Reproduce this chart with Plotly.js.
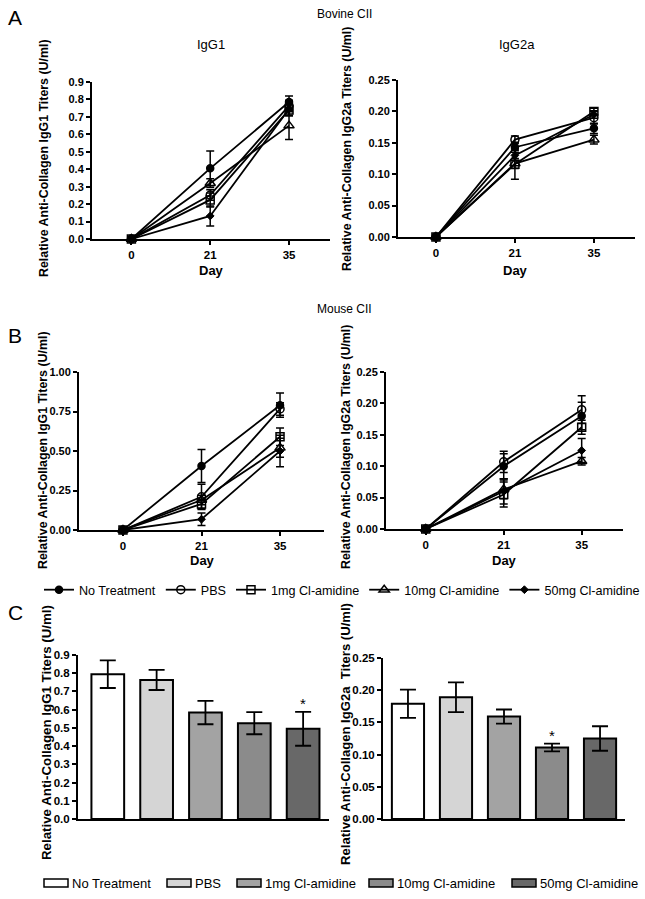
<!DOCTYPE html>
<html>
<head>
<meta charset="utf-8">
<script src="https://cdn.plot.ly/plotly-3.0.1.min.js"></script>
<style>html,body{margin:0;padding:0;background:#fff;}#chart{width:645px;height:899px;}</style>
</head>
<body>
<div id="chart"></div>
<script>
// ---------------- DATA ----------------
const days = ['0', '21', '35'];
const groups = ['No Treatment', 'PBS', '1mg Cl-amidine', '10mg Cl-amidine', '50mg Cl-amidine'];

// Panel A: Bovine CII (rows follow `groups`)
const bovineIgG1Mean = [[0, 0.405, 0.785], [0, 0.252, 0.765], [0, 0.224, 0.74], [0, 0.32, 0.65], [0, 0.132, 0.745]];
const bovineIgG1Err  = [[0, 0.10, 0.035], [0, 0.03, 0.03], [0, 0.04, 0.03], [0, 0.025, 0.08], [0, 0.057, 0.04]];
const bovineIgG2aMean = [[0, 0.143, 0.173], [0, 0.155, 0.19], [0, 0.116, 0.20], [0, 0.117, 0.155], [0, 0.13, 0.195]];
const bovineIgG2aErr  = [[0, 0.008, 0.008], [0, 0.006, 0.01], [0, 0.024, 0.005], [0, 0.008, 0.007], [0, 0.008, 0.006]];

// Panel B: Mouse CII
const mouseIgG1Mean = [[0, 0.405, 0.79], [0, 0.21, 0.766], [0, 0.165, 0.59], [0, 0.19, 0.52], [0, 0.068, 0.50]];
const mouseIgG1Err  = [[0, 0.105, 0.077], [0, 0.08, 0.04], [0, 0.03, 0.055], [0, 0.03, 0.06], [0, 0.04, 0.10]];
const mouseIgG2aMean = [[0, 0.10, 0.18], [0, 0.107, 0.19], [0, 0.055, 0.162], [0, 0.063, 0.108], [0, 0.06, 0.125]];
const mouseIgG2aErr  = [[0, 0.02, 0.022], [0, 0.017, 0.022], [0, 0.02, 0.011], [0, 0.015, 0.006], [0, 0.02, 0.019]];

// Panel C: Mouse CII, day 35
const day35IgG1Mean = [0.795, 0.763, 0.584, 0.526, 0.495];
const day35IgG1Err  = [0.076, 0.055, 0.064, 0.061, 0.093];
const day35IgG2aMean = [0.179, 0.189, 0.159, 0.111, 0.125];
const day35IgG2aErr  = [0.022, 0.023, 0.011, 0.006, 0.019];
const significant = [false, false, false, false, true];
const significantIgG2a = [false, false, false, true, false];

// ---------------- STYLE ----------------
const W = 645, H = 899;
const FONT = 'Liberation Sans, Arial, Helvetica, sans-serif';
const markerStyles = [
  {symbol: 'circle', size: 7, color: 'black', line: {color: 'black', width: 1.5}},
  {symbol: 'circle-open', size: 8, color: 'black', line: {color: 'black', width: 1.5}},
  {symbol: 'square-open', size: 8, color: 'black', line: {color: 'black', width: 1.5}},
  {symbol: 'triangle-up-open', size: 9, color: 'black', line: {color: 'black', width: 1.5}},
  {symbol: 'diamond', size: 6, color: 'black', line: {color: 'black', width: 1}}
];
const barColors = ['#ffffff', '#d5d5d5', '#a3a3a3', '#8b8b8b', '#686868'];
const px = x => x / W;
const py = y => 1 - y / H;

// ---------------- TRACES ----------------
const traces = [];
function addLines(means, errs, n, showLeg) {
  means.forEach((m, i) => {
    traces.push({
      type: 'scatter', mode: 'lines+markers', x: days, y: m,
      name: groups[i], showlegend: showLeg, legendrank: i + 1,
      xaxis: 'x' + (n === 1 ? '' : n), yaxis: 'y' + (n === 1 ? '' : n),
      line: {color: 'black', width: 1.8},
      marker: markerStyles[i], cliponaxis: false,
      error_y: {type: 'data', array: errs[i], visible: true, color: 'black', thickness: 1.5, width: 4}
    });
  });
}
addLines(bovineIgG1Mean, bovineIgG1Err, 1, false);
addLines(bovineIgG2aMean, bovineIgG2aErr, 2, false);
addLines(mouseIgG1Mean, mouseIgG1Err, 3, true);
addLines(mouseIgG2aMean, mouseIgG2aErr, 4, false);

function addBars(means, errs, n) {
  traces.push({
    type: 'bar', x: groups, y: means, xaxis: 'x' + n, yaxis: 'y' + n, showlegend: false,
    width: 0.67, cliponaxis: false,
    marker: {color: barColors, line: {color: 'black', width: 2}},
    error_y: {type: 'data', array: errs, visible: true, color: 'black', thickness: 1.8, width: 8}
  });
}
addBars(day35IgG1Mean, day35IgG1Err, 5);
addBars(day35IgG2aMean, day35IgG2aErr, 6);

// ---------------- AXES ----------------
function yax(dom, max, dtick, fmt, anchor, fs) {
  return {domain: [py(dom[1]), py(dom[0])], range: [0, max], dtick: dtick, tick0: 0, tickformat: fmt,
    showline: true, linewidth: 2, linecolor: 'black', ticks: 'outside', ticklen: 4, tickwidth: 2,
    tickcolor: 'black', showgrid: false, zeroline: false, anchor: anchor,
    tickfont: {family: FONT, size: fs, color: 'black', weight: 'bold'}, fixedrange: true};
}
function xax(dom, range, anchor, showTicks) {
  return {domain: [px(dom[0]), px(dom[1])], range: range, type: 'category', anchor: anchor,
    showline: true, linewidth: 2, linecolor: 'black', ticks: showTicks ? 'outside' : '', ticklen: 4, tickwidth: 2,
    tickcolor: 'black', showgrid: false, zeroline: false, showticklabels: showTicks,
    tickfont: {family: FONT, size: 11.5, color: 'black', weight: 'bold'}, fixedrange: true};
}

const layout = {
  width: W, height: H, margin: {l: 0, r: 0, t: 0, b: 0},
  paper_bgcolor: 'white', plot_bgcolor: 'rgba(0,0,0,0)',
  font: {family: FONT, color: 'black'},
  xaxis: xax([92, 330], [-0.5, 2.52], 'y', true),
  yaxis: yax([82, 239], 0.9, 0.1, '.1f', 'x', 11),
  xaxis2: xax([398, 635], [-0.48, 2.52], 'y2', true),
  yaxis2: yax([80, 237], 0.25, 0.05, '.2f', 'x2', 11),
  xaxis3: xax([79, 324], [-0.56, 2.56], 'y3', true),
  yaxis3: yax([372, 530], 1.0, 0.25, '.2f', 'x3', 11),
  xaxis4: xax([386, 623], [-0.51, 2.53], 'y4', true),
  yaxis4: yax([372, 529], 0.25, 0.05, '.2f', 'x4', 11),
  xaxis5: xax([78, 329], [-0.61, 4.53], 'y5', false),
  yaxis5: yax([655, 819], 0.9, 0.1, '.1f', 'x5', 11.5),
  xaxis6: xax([383, 625], [-0.52, 4.52], 'y6', false),
  yaxis6: yax([658, 819], 0.25, 0.05, '.2f', 'x6', 11.5),
  showlegend: true,
  legend: {orientation: 'h', x: px(47), xanchor: 'left', y: py(590), yanchor: 'middle',
    font: {family: FONT, size: 12.6, color: 'black'}, bgcolor: 'rgba(0,0,0,0)', itemwidth: 30,
    traceorder: 'normal', tracegroupgap: 0},
  annotations: [],
  shapes: []
};

const ann = layout.annotations;
function txt(text, x, y, size, opts) {
  ann.push(Object.assign({text: text, x: px(x), y: py(y), xref: 'paper', yref: 'paper', showarrow: false,
    xanchor: 'center', yanchor: 'middle', font: {family: FONT, size: size, color: 'black'}}, opts || {}));
}
const boldTitle = (s) => ({family: FONT, size: s, color: 'black', weight: 'bold'});
// panel letters & headings
txt('A', 15, 18, 21);
txt('B', 15, 335, 21);
txt('C', 15, 612, 21);
txt('Bovine CII', 345, 14, 12);
txt('Mouse CII', 345, 309, 12);
txt('IgG1', 211, 45, 13);
txt('IgG2a', 517, 45, 13);
// axis titles
const yt1 = 'Relative Anti-Collagen IgG1 Titers (U/ml)';
const yt2 = 'Relative Anti-Collagen IgG2a Titers (U/ml)';
txt(yt1, 44, 158, 12, {textangle: -90, font: boldTitle(12.4)});
txt(yt2, 347, 149, 12, {textangle: -90, font: boldTitle(12.4)});
txt(yt1, 43, 450, 12, {textangle: -90, font: boldTitle(12.4)});
txt(yt2, 346, 447, 12, {textangle: -90, font: boldTitle(12.4)});
txt(yt1, 46, 733, 13, {textangle: -90, font: boldTitle(13.3)});
txt('Relative Anti-Collagen IgG2a&nbsp; Titers (U/ml)', 345, 734, 13, {textangle: -90, font: boldTitle(13.1)});
txt('Day', 211, 270, 13, {font: boldTitle(13)});
txt('Day', 515, 270, 13, {font: boldTitle(13)});
txt('Day', 202, 560, 13, {font: boldTitle(13)});
txt('Day', 504, 560, 13, {font: boldTitle(13)});

// significance markers in panel B (attached to day 35 of the 50mg / 10mg series)
ann.push({text: '*', xref: 'x3', yref: 'y3', x: days[2], y: mouseIgG1Mean[4][2], xshift: 14, yshift: -2,
  showarrow: false, font: {family: FONT, size: 9, color: '#000000'}});
ann.push({text: '*', xref: 'x4', yref: 'y4', x: days[2], y: (mouseIgG2aMean[3][2] + mouseIgG2aMean[4][2]) / 2, xshift: 14, yshift: -2,
  showarrow: false, font: {family: FONT, size: 9, color: '#000000'}});
// significance markers in panel C
groups.forEach((g, i) => {
  if (significant[i]) ann.push({text: '*', xref: 'x5', yref: 'y5', x: g, y: day35IgG1Mean[i] + day35IgG1Err[i],
    yanchor: 'bottom', yshift: -2, showarrow: false, font: {family: FONT, size: 15, color: '#000000'}});
  if (significantIgG2a[i]) ann.push({text: '*', xref: 'x6', yref: 'y6', x: g, y: day35IgG2aMean[i] + day35IgG2aErr[i],
    yanchor: 'bottom', yshift: -2, showarrow: false, font: {family: FONT, size: 15, color: '#000000'}});
});

// legend for panel C (boxes + labels)
const legendCBoxLeft = [44, 167, 237, 369, 512];
const legendCY = 883;
groups.forEach((g, i) => {
  const x0 = legendCBoxLeft[i];
  layout.shapes.push({type: 'rect', xref: 'paper', yref: 'paper', x0: px(x0), x1: px(x0 + 24),
    y0: py(legendCY + 4), y1: py(legendCY - 4), fillcolor: barColors[i], line: {color: 'black', width: 1.5}});
  txt(g, x0 + 26, legendCY, 13, {xanchor: 'left'});
});

Plotly.newPlot('chart', traces, layout, {staticPlot: true, displayModeBar: false});
</script>
</body>
</html>
